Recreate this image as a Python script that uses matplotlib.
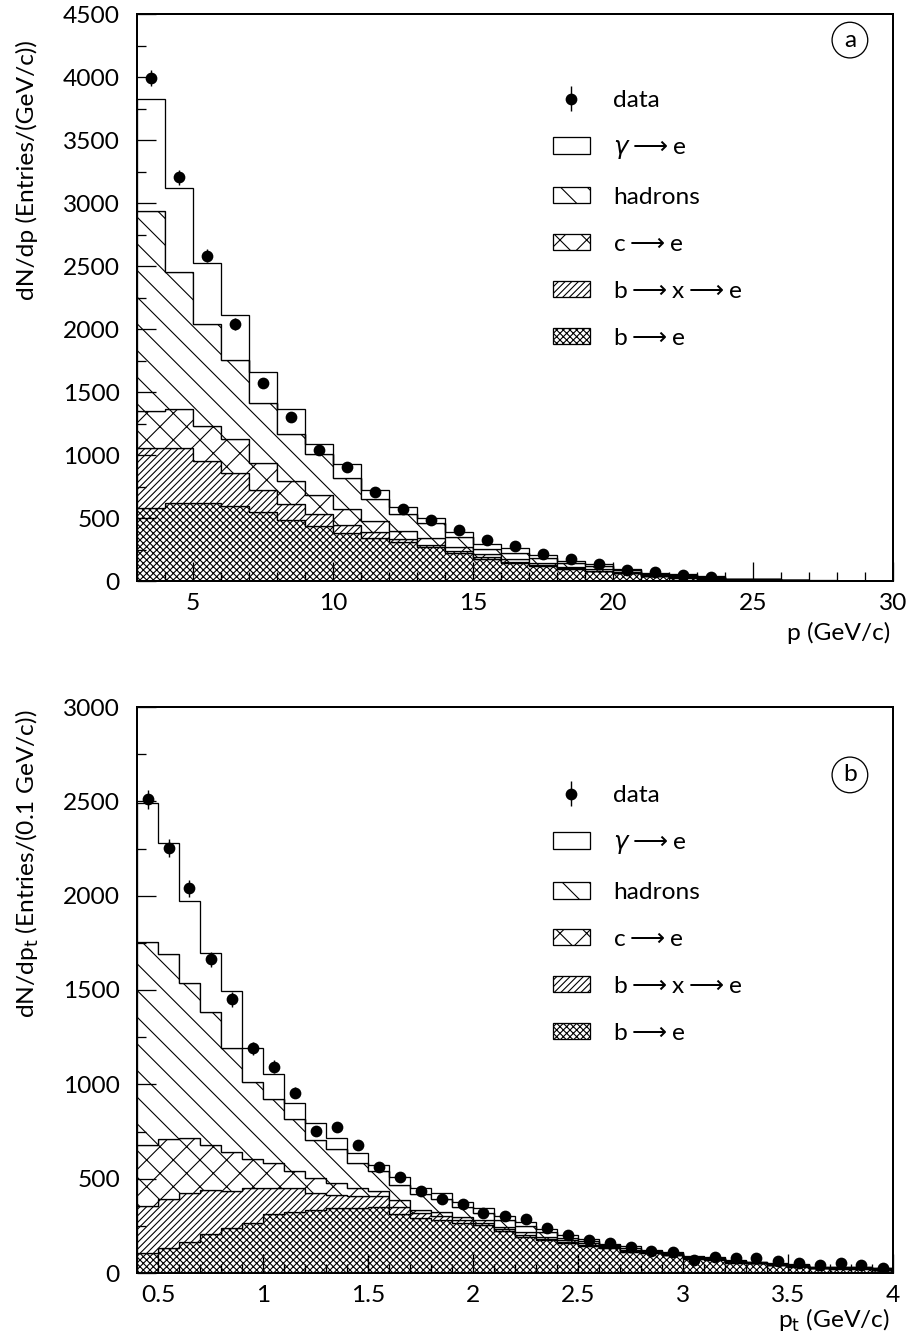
import numpy as np
import matplotlib
matplotlib.use("Agg")
import matplotlib.pyplot as plt
from matplotlib.ticker import MultipleLocator, FuncFormatter

DPI = 160
PX = 72.0 / DPI   # one pixel in points

plt.rcParams['font.family'] = ['Lato', 'DejaVu Sans']
plt.rcParams['hatch.linewidth'] = 1.1 * PX
plt.rcParams['mathtext.fontset'] = 'dejavusans'

# (a) electron momentum, 1 GeV/c bins from 3 to 30
p_edges = np.arange(3, 31)
p_b_e = [580, 620, 620, 596, 549, 485, 437, 382, 342, 310, 270, 223, 178, 143, 119, 95, 79, 64, 40, 24,
         16, 8, 8, 3, 1, 1, 1]
p_bxe = [477, 437, 334, 263, 174, 127, 96, 63, 48, 24, 16, 15, 12, 9, 6, 5, 4, 3, 3, 4,
         3, 2, 2, 1, 1, 0, 0]
p_ce = [294, 310, 278, 270, 215, 183, 151, 127, 87, 63, 56, 32, 25, 23, 15, 12, 12, 8, 7, 8,
        6, 2, 2, 1, 1, 1, 0]
p_had = [1582, 1089, 811, 628, 477, 373, 325, 247, 175, 136, 119, 80, 40, 50, 40, 28, 23, 10, 8, 11,
         8, 2, 2, 1, 0, 0, 1]
p_gam = [890, 660, 477, 358, 246, 199, 80, 111, 71, 55, 40, 38, 39, 37, 27, 19, 17, 10, 6, 9,
         7, 2, 2, 2, 1, 1, 0]
p_data = [3990, 3203, 2583, 2040, 1574, 1304, 1041, 906, 707, 572, 485, 405, 326, 278, 215, 175, 135,
          90, 72, 48, 32]

# (b) transverse momentum, 0.1 GeV/c bins from 0.4 to 4
pt_edges = np.round(np.arange(0.4, 4.05, 0.1), 2)
pt_b_e = [106, 132, 164, 207, 238, 265, 313, 323, 334, 344, 344, 350, 313, 291, 281, 265, 254, 223,
          191, 175, 159, 143, 132, 111, 106, 95, 74, 69, 53, 53, 42, 32, 26, 21, 21, 16]
pt_bxe = [249, 260, 260, 233, 197, 185, 137, 127, 90, 69, 64, 60, 37, 27, 21, 16, 11, 9,
          9, 7, 6, 5, 4, 5, 3, 3, 3, 3, 4, 1, 3, 4, 1, 3, 3, 2]
pt_ce = [323, 318, 291, 238, 206, 154, 133, 91, 79, 64, 42, 25, 37, 16, 21, 16, 15, 13,
         15, 10, 8, 9, 6, 8, 4, 4, 4, 4, 4, 1, 3, 4, 2, 3, 3, 3]
pt_had = [1076, 980, 822, 705, 551, 408, 339, 275, 202, 180, 133, 106, 79, 85, 69, 53, 40, 35,
          35, 23, 15, 13, 6, 11, 5, 5, 5, 4, 4, 2, 2, 4, 1, 3, 3, 3]
pt_gam = [737, 588, 433, 311, 302, 180, 133, 85, 90, 58, 53, 31, 43, 31, 32, 26, 24, 22,
          20, 18, 13, 10, 6, 8, 4, 4, 4, 5, 4, 1, 3, 4, 2, 2, 2, 2]
pt_data = [2512, 2252, 2039, 1662, 1450, 1190, 1094, 956, 752, 774, 678, 562, 509, 435, 392, 366,
           318, 302, 286, 238, 201, 175, 159, 138, 117, 111, 69, 85, 80, 80, 64, 53, 42, 53, 42, 26]

labels = ['data', r'$\gamma\longrightarrow$e', 'hadrons', r'c$\longrightarrow$e',
          r'b$\longrightarrow$x$\longrightarrow$e', r'b$\longrightarrow$e']
# bottom to top of the stack
hatches = ['xxxxxxxx', '////////', 'xx', '\\\\', None]


def draw_panel(ax, edges, parts, data):
    base = np.zeros(len(edges) - 1)
    steps = []
    for vals, h in zip(parts, hatches):
        top = base + np.array(vals, dtype=float)
        st = ax.stairs(top, edges, baseline=base, fill=True, facecolor='white',
                       edgecolor='black', hatch=h, lw=1.3 * PX)
        steps.append(st)
        base = top
    centers = 0.5 * (edges[:-1] + edges[1:])[:len(data)]
    data = np.array(data, dtype=float)
    eb = ax.errorbar(centers, data, yerr=np.sqrt(data), fmt='o', ms=9.5 * PX,
                     color='black', elinewidth=1.4 * PX, capsize=0, zorder=5)
    return eb, steps


def style_axes(ax, ymax, xmaj, xmin):
    ax.set_ylim(0, ymax)
    ax.xaxis.set_major_locator(MultipleLocator(xmaj))
    ax.xaxis.set_minor_locator(MultipleLocator(xmin))
    ax.yaxis.set_major_locator(MultipleLocator(500))
    ax.yaxis.set_minor_locator(MultipleLocator(250))
    fmt = FuncFormatter(lambda v, pos: '%g' % v)
    ax.xaxis.set_major_formatter(fmt)
    ax.yaxis.set_major_formatter(fmt)
    ax.tick_params(which='both', direction='in', top=False, right=False,
                   width=1.3 * PX, labelsize=11)
    ax.tick_params(which='major', length=19 * PX)
    ax.tick_params(which='minor', length=9 * PX)
    ax.tick_params(axis='y', pad=17 * PX)
    ax.tick_params(axis='x', pad=12 * PX)
    for s in ax.spines.values():
        s.set_linewidth(2 * PX)


fig = plt.figure(figsize=(913 / DPI, 1342 / DPI), dpi=DPI)
ax1 = fig.add_axes([137 / 913, 1 - 581 / 1342, 756 / 913, 567 / 1342])
ax2 = fig.add_axes([137 / 913, 1 - 1273 / 1342, 756 / 913, 566 / 1342])

panels = [
    (ax1, p_edges, [p_b_e, p_bxe, p_ce, p_had, p_gam], p_data, 4500, 5, 1,
     'dN/dp (Entries/(GeV/c))', 'p (GeV/c)', 'a', 0.954, 0.866, 0.954, -0.092),
    (ax2, pt_edges, [pt_b_e, pt_bxe, pt_ce, pt_had, pt_gam], pt_data, 3000, 0.5, 0.1,
     r'dN/dp$_{\rm t}$ (Entries/(0.1 GeV/c))', r'p$_{\rm t}$ (GeV/c)', 'b', 0.880, 0.862, 0.995, -0.083),
]

for ax, edges, parts, data, ymax, xmaj, xmin, ylab, xlab, tag, tag_y, leg_y, ylab_y, xlab_y in panels:
    eb, steps = draw_panel(ax, edges, parts, data)
    ax.set_xlim(edges[0], edges[-1])
    style_axes(ax, ymax, xmaj, xmin)
    handles = [eb, steps[4], steps[3], steps[2], steps[1], steps[0]]
    ax.legend(handles, labels, loc='upper left', bbox_to_anchor=(0.55, leg_y),
              frameon=False, fontsize=11, handlelength=1.52, handleheight=0.66,
              handletextpad=0.95, labelspacing=1.06, borderpad=0, borderaxespad=0)
    ax.text(0.943, tag_y, tag, transform=ax.transAxes, ha='center', va='center', fontsize=11,
            bbox=dict(boxstyle='circle,pad=0.3', fc='white', ec='black', lw=1.3 * PX))
    ax.text(-0.1455, ylab_y, ylab, transform=ax.transAxes, rotation=90,
            ha='center', va='top', fontsize=11)
    ax.text(0.996, xlab_y, xlab, transform=ax.transAxes, ha='right', va='center', fontsize=11)

fig.savefig('out.png', dpi=DPI)
